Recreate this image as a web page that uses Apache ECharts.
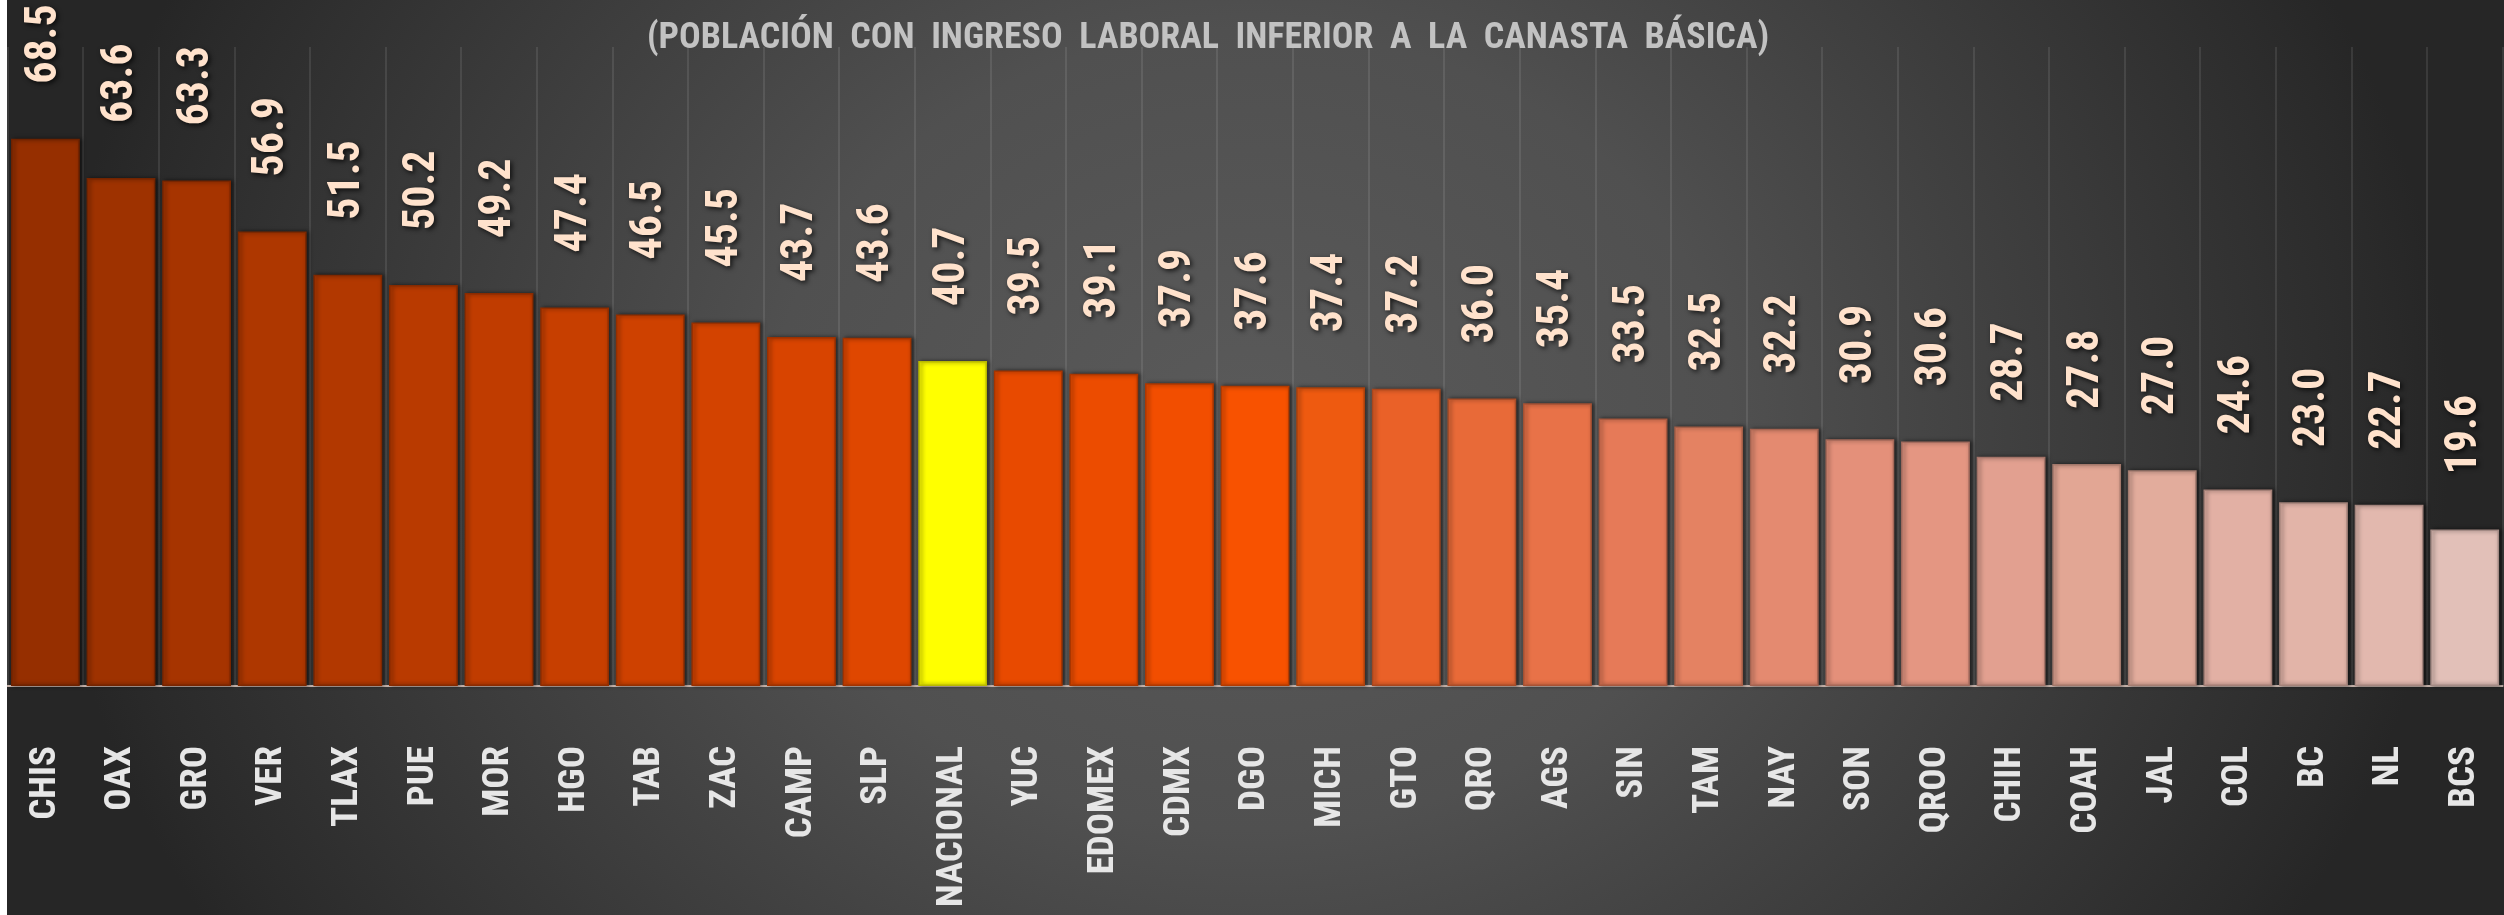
<!DOCTYPE html>
<html>
<head>
<meta charset="utf-8">
<script src="https://cdn.jsdelivr.net/npm/echarts@6/dist/echarts.min.js"></script>
<style>
  html, body { margin: 0; padding: 0; background: #ffffff; width: 2504px; height: 915px; overflow: hidden; }
  #chart {
    position: absolute; left: 7px; top: 0; width: 2497px; height: 915px;
    background: radial-gradient(ellipse 1200px 1000px at 1243px 430px, #5a5a5a 0%, #505050 40%, #2a2a2a 95%, #262626 100%);
  }
</style>
</head>
<body>
<div id="chart"></div>
<script>
const titleText = '(POBLACIÓN  CON  INGRESO  LABORAL  INFERIOR  A  LA  CANASTA  BÁSICA)';
const categories = ['CHIS','OAX','GRO','VER','TLAX','PUE','MOR','HGO','TAB','ZAC','CAMP','SLP','NACIONAL','YUC','EDOMEX','CDMX','DGO','MICH','GTO','QRO','AGS','SIN','TAM','NAY','SON','QROO','CHIH','COAH','JAL','COL','BC','NL','BCS'];
const values = [68.5,63.6,63.3,56.9,51.5,50.2,49.2,47.4,46.5,45.5,43.7,43.6,40.7,39.5,39.1,37.9,37.6,37.4,37.2,36.0,35.4,33.5,32.5,32.2,30.9,30.6,28.7,27.8,27.0,24.6,23.0,22.7,19.6];
const barColors = ['#962f00','#9e3200','#a63400','#ae3700','#b23800','#b93a00','#c03c00','#c73f00','#ce4100','#d34300','#d84400','#df4700','#ffff00','#e84a00','#ec4c00','#f24e00','#f85200','#ee5a10','#ea6128','#e86a38','#e87248','#e67a58','#e48262','#e48a70','#e4907a','#e49682','#e2a090','#e2a694','#e2ac9c','#e2b0a4','#e2b4a8','#e2b8ae','#e2c0b8'];

function shade(hex, f) {
  const n = parseInt(hex.slice(1), 16);
  const r = Math.round(((n >> 16) & 255) * f), g = Math.round(((n >> 8) & 255) * f), b = Math.round((n & 255) * f);
  return 'rgb(' + r + ',' + g + ',' + b + ')';
}

const FONT = "'Liberation Sans Narrow','Roboto Condensed','DejaVu Sans Condensed',sans-serif";

const chart = echarts.init(document.getElementById('chart'), null, { renderer: 'canvas' });
chart.setOption({
  backgroundColor: 'transparent',
  animation: false,
  title: {
    text: titleText,
    left: 1196,
    textAlign: 'center',
    top: 16,
    textStyle: { color: '#c2c2c2', fontFamily: FONT, fontSize: 36, fontWeight: 'bold' }
  },
  grid: { left: 0.6, right: 1.5, top: 47, bottom: 229, containLabel: false },
  xAxis: {
    type: 'category',
    data: categories,
    boundaryGap: true,
    axisLine: { show: true, lineStyle: { color: '#c9b6ae', width: 2 } },
    axisTick: { show: false },
    splitLine: { show: true, interval: 0, lineStyle: { color: 'rgba(255,255,255,0.13)', width: 1.5 } },
    axisLabel: {
      interval: 0, rotate: 90, margin: 60,
      color: '#e6e6e6', fontFamily: FONT, fontWeight: 'bold', fontSize: 37
    }
  },
  yAxis: {
    type: 'value', min: 0, max: 80, interval: 10,
    show: false,
    splitLine: { show: false }
  },
  series: [{
    type: 'bar',
    data: values.map((v, i) => ({
      value: v,
      itemStyle: { color: barColors[i], borderColor: shade(barColors[i], 0.72) }
    })),
    barCategoryGap: '9%',
    itemStyle: {
      borderWidth: 1.5,
      shadowColor: 'rgba(0,0,0,0.55)', shadowBlur: 4, shadowOffsetX: 2, shadowOffsetY: 0
    },
    label: {
      show: true, position: 'top', distance: 55, rotate: 90,
      align: 'left', verticalAlign: 'middle',
      formatter: p => p.value.toFixed(1),
      color: '#ffe2cc', fontFamily: FONT, fontWeight: 'bold', fontSize: 44,
      textShadowColor: 'rgba(0,0,0,0.75)', textShadowBlur: 5, textShadowOffsetX: 2, textShadowOffsetY: 2
    }
  }]
});
</script>
</body>
</html>
